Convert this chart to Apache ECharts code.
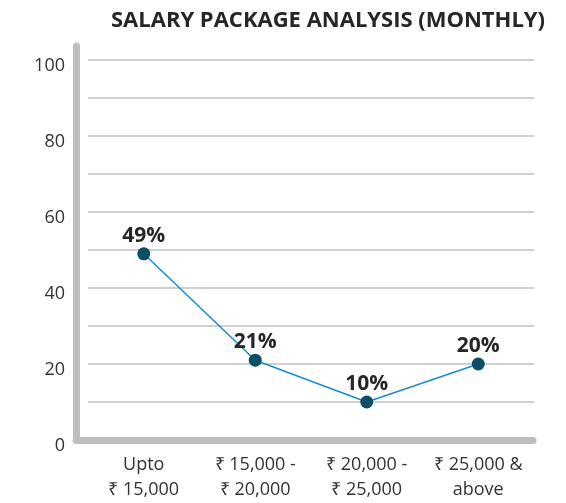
<!DOCTYPE html>
<html>
<head>
<meta charset="utf-8">
<script src="https://cdn.jsdelivr.net/npm/echarts@6/dist/echarts.min.js"></script>
<style>
html,body{margin:0;padding:0;background:#fff;}
#chart{width:566px;height:503px;}
</style>
</head>
<body>
<div id="chart"></div>
<script>
const titleText = 'SALARY PACKAGE ANALYSIS (MONTHLY)';
const categories = ['Upto\n₹ 15,000', '₹ 15,000 -\n₹ 20,000', '₹ 20,000 -\n₹ 25,000', '₹ 25,000 &\nabove'];
const percentValues = [49, 21, 10, 20];
const yMin = 0;
const yMax = 100;
const yGridStep = 10;
const yLabelStep = 20;

const FONT = 'Open Sans';
const chart = echarts.init(document.getElementById('chart'), null, {renderer: 'canvas'});
const axisGray = '#bfbfbf';

chart.setOption({
  animation: false,
  backgroundColor: '#ffffff',
  title: {
    text: titleText,
    left: 106,
    top: 5,
    textStyle: {fontFamily: FONT, fontWeight: 'bold', fontSize: 22, color: '#262626'}
  },
  grid: [
    {left: 76, right: 33, top: 46, bottom: 63, containLabel: false},
    {left: 88, right: 32, top: 60, bottom: 63, containLabel: false}
  ],
  xAxis: [
    {
      gridIndex: 0, type: 'value', min: 0, max: 1,
      axisLine: {show: true, onZero: false, lineStyle: {color: axisGray, width: 7, cap: 'round'}},
      axisTick: {show: false}, axisLabel: {show: false}, splitLine: {show: false}
    },
    {
      gridIndex: 1, type: 'category', data: categories, boundaryGap: true,
      axisLine: {show: false}, axisTick: {show: false}, splitLine: {show: false},
      axisLabel: {
        interval: 0, margin: 12, color: '#333333',
        fontFamily: FONT, fontSize: 18, lineHeight: 25
      }
    }
  ],
  yAxis: [
    {
      gridIndex: 0, type: 'value', min: 0, max: 1,
      axisLine: {show: true, onZero: false, lineStyle: {color: axisGray, width: 7, cap: 'round'}},
      axisTick: {show: false}, axisLabel: {show: false}, splitLine: {show: false}
    },
    {
      gridIndex: 1, type: 'value', min: yMin, max: yMax, interval: yGridStep,
      axisLine: {show: false}, axisTick: {show: false},
      splitLine: {show: true, lineStyle: {color: '#d0d0d0', width: 2}},
      axisLabel: {
        margin: 23, color: '#333333', fontFamily: FONT, fontSize: 18,
        formatter: v => (v % yLabelStep === 0 ? '{v|' + v + '}' : ''),
        rich: {v: {fontFamily: FONT, fontSize: 18, color: '#333333', padding: [12, 0, 0, 0]}}
      }
    }
  ],
  series: [{
    type: 'line',
    xAxisIndex: 1, yAxisIndex: 1,
    data: percentValues,
    symbol: 'circle',
    symbolSize: 13,
    lineStyle: {color: '#1b8ad0', width: 1.5},
    itemStyle: {color: '#0b4f66'},
    label: {
      show: true, position: 'top', distance: 1,
      formatter: p => p.value + '%',
      fontFamily: FONT, fontWeight: 'bold', fontSize: 21, color: '#262626'
    },
    z: 5
  }]
});
</script>
</body>
</html>
